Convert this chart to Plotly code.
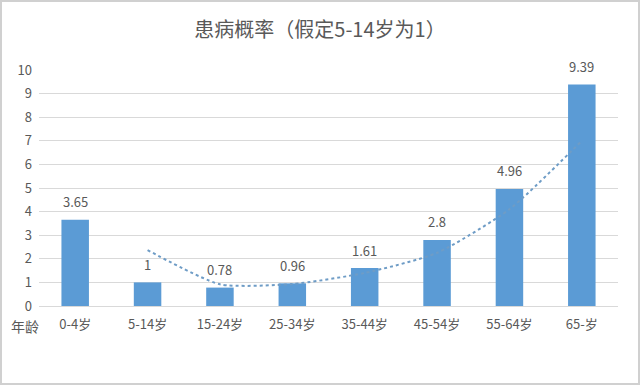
import plotly.graph_objects as go

categories = ["0-4岁", "5-14岁", "15-24岁", "25-34岁", "35-44岁", "45-54岁", "55-64岁", "65-岁"]
values = [3.65, 1, 0.78, 0.96, 1.61, 2.8, 4.96, 9.39]
value_labels = ["3.65", "1", "0.78", "0.96", "1.61", "2.8", "4.96", "9.39"]
trend = [None, 2.37, 0.92, 0.93, 1.4, 2.25, 4.1, 7.0]
title_text = "患病概率（假定5-14岁为1）"
axis_label = "年龄"

FONT = "Noto Sans CJK SC, Liberation Sans, sans-serif"
TXT = "#595959"

fig = go.Figure()
fig.add_trace(go.Scatter(
    x=categories, y=trend, mode="lines",
    line=dict(color="#6E9CC6", width=2, dash="dot", shape="spline", smoothing=0.6),
    connectgaps=False, hoverinfo="skip", showlegend=False,
))
fig.add_trace(go.Bar(
    x=categories, y=values, marker=dict(color="#5B9BD5", line=dict(width=0)),
    showlegend=False,
))
for c, v, t in zip(categories, values, value_labels):
    fig.add_annotation(x=c, y=v, text=t, showarrow=False, yshift=18,
                       font=dict(family=FONT, size=13, color=TXT))

fig.add_annotation(xref="paper", yref="paper", x=-14/579, y=0, yshift=-20,
                   xanchor="center", yanchor="middle", text=axis_label,
                   showarrow=False, font=dict(family=FONT, size=14, color=TXT))

fig.update_layout(
    width=640, height=385,
    margin=dict(l=39, r=22, t=70, b=79),
    paper_bgcolor="white", plot_bgcolor="white",
    bargap=0.62,
    title=dict(text=title_text, x=0.5, xanchor="center", y=0.922, yanchor="middle",
               font=dict(family=FONT, size=20, color=TXT)),
    font=dict(family=FONT, size=13, color=TXT),
    xaxis=dict(showgrid=False, showline=True, linecolor="#D9D9D9", linewidth=1,
               ticks="", tickfont=dict(size=13, color=TXT), ticklabelstandoff=6),
    yaxis=dict(range=[0, 10], dtick=1, showgrid=True, gridcolor="#D9D9D9", gridwidth=1,
               zeroline=False, showline=False, ticks="",
               tickfont=dict(size=13, color=TXT), ticklabelstandoff=6),
)
# thin border around the whole picture
fig.add_shape(type="rect", xref="paper", yref="paper",
              x0=-38/579, x1=1+21/579, y0=-78/236, y1=1+69/236,
              line=dict(color="#D0D0D0", width=2), layer="below")

fig.write_html("out.html", config={"displayModeBar": False},
               post_script="document.body.style.margin='0px';")
